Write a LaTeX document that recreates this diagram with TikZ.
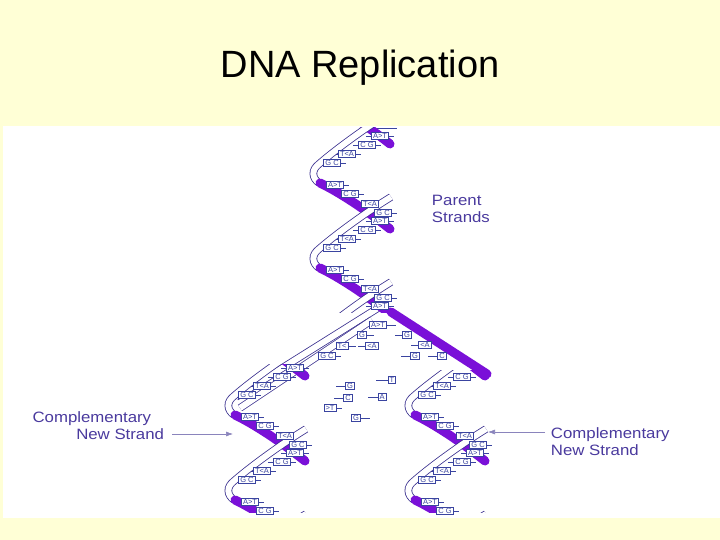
\documentclass[tikz,border=0pt]{standalone}
\usepackage{fontspec}
\setmainfont{Liberation Sans}
\usetikzlibrary{arrows.meta}
\begin{document}
\definecolor{bgy}{HTML}{FFFFD6}
\definecolor{vio}{HTML}{7A10D8}
\definecolor{ribc}{HTML}{3C3290}
\definecolor{bpc}{HTML}{3A44A0}
\definecolor{lab}{HTML}{4A3A9E}
\tikzset{
 pur/.style={line width=9pt, color=vio, line cap=round},
 rib/.style={draw=ribc, double=white, line width=0.8pt, double distance=6pt},
 bp/.style={draw=bpc, font=\fontsize{7.5}{7.5}\selectfont, text=bpc, inner xsep=1.5pt, inner ysep=1pt, fill=white, line width=0.7pt},
 rung/.style={draw=bpc, line width=0.7pt},
 lbl/.style={text=lab, font=\fontsize{15}{17}\selectfont, align=left, xscale=1.12}
}
\newcommand\myhelix[5]{% cx, ytop, ybot, y0, kmin
\begin{scope}
\clip (#1-50,#2) rectangle (#1+50,#3);
\foreach \k in {#5,...,1}{
 \pgfmathsetmacro\ya{#4+85*\k}
 \foreach \dx/\dy/\t in {-20/2/A>T,-5/11/C G,15/21/T<A,28/30/G C,25/38/A>T,12/47/C G,-8/56/T<A,-23/65/G C}{
   \draw[rung] (#1+\dx-14,\ya+\dy) -- (#1+\dx+14,\ya+\dy);
 }
 \draw[pur] (#1-35,\ya) .. controls (#1-10,\ya+12) and (#1+20,\ya+34) .. (#1+35,\ya+46);
 \draw[rib] (#1+36,\ya+14) .. controls (#1+10,\ya+30) and (#1-20,\ya+52) .. (#1-36,\ya+66)
   .. controls (#1-44,\ya+72) and (#1-43,\ya+80) .. (#1-36,\ya+85);
}
\end{scope}
\foreach \k in {#5,...,1}{
 \pgfmathsetmacro\ya{#4+85*\k}
 \foreach \dx/\dy/\t in {-20/2/A>T,-5/11/C G,15/21/T<A,28/30/G C,25/38/A>T,12/47/C G,-8/56/T<A,-23/65/G C}{
   \pgfmathtruncatemacro\yy{\ya+\dy}
   \ifnum\yy>#2\relax\ifnum\yy<#3\relax
   \node[bp] at (#1+\dx,\yy) {\t};
   \fi\fi
 }
}}
\begin{tikzpicture}[x=1pt,y=-1pt]
\useasboundingbox (0,0) rectangle (720,540);
\fill[bgy] (0,0) rectangle (720,540);
\fill[white] (3,126) rectangle (720,518);
\node[font=\fontsize{38}{40}\selectfont] (title) at (360,68) {DNA Replication};
% fork extras
\draw[pur] (391,312) -- (487,374);
\draw[rib] (386,303) -- (236,397);
\draw[rib] (372,320) -- (240,408);
% helices
\myhelix{355}{128}{312}{183}{-1}
\myhelix{270}{364}{512}{415}{-1}
\myhelix{450}{370}{512}{415}{-1}
% free nucleotides
\foreach \x/\y/\t/\l in {378/325/A>T/18,362/335/G/12,407/335/G/-12,342/346/T</14,372/346/<A/-14,425/345/<A/-14,327/356/G C/14,415/356/G/-14,442/356/C/-14,392/380/T/-16,350/386/G/-14,382/397/A/-14,348/398/C/-14,330/408/>T/12,356/418/G/14}{
 \draw[rung] (\x,\y) -- ++(\l,0);
 \node[bp] at (\x,\y) {\t};
}
% labels
\node[lbl,anchor=west] (par) at (428,209) {Parent\\Strands};
\node[lbl,anchor=east] (cl) at (168,426) {Complementary\\\hspace*{2.6em}New Strand};
\node[lbl,anchor=west] (cr) at (547,442) {Complementary\\New Strand};
\coordinate (la) at (233,434);
\coordinate (ra) at (488,432);
\draw[ribc!60,line width=0.6pt,-{Latex[length=7pt,width=5pt]}] (172,434) -- (la);
\draw[ribc!60,line width=0.6pt,-{Latex[length=7pt,width=5pt]}] (545,432) -- (ra);
\end{tikzpicture}
\end{document}
